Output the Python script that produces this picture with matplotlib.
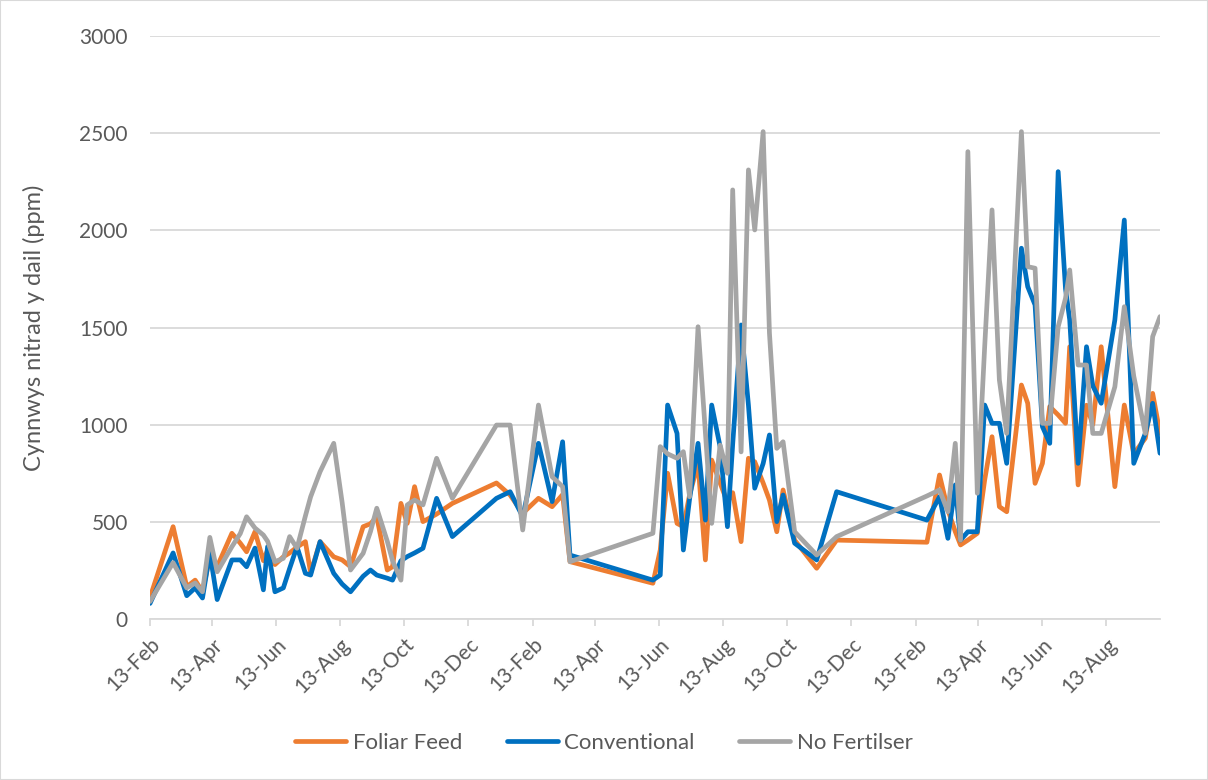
import pandas as pd
import matplotlib.pyplot as plt
import matplotlib.dates as mdates
from matplotlib.patches import Rectangle

dates = ['2017-02-13', '2017-03-07', '2017-03-20', '2017-03-28', '2017-04-04', '2017-04-11', '2017-04-18',
         '2017-05-02', '2017-05-10', '2017-05-16', '2017-05-24', '2017-06-01', '2017-06-05', '2017-06-12',
         '2017-06-20', '2017-06-26', '2017-07-03', '2017-07-11', '2017-07-16', '2017-07-25', '2017-08-07',
         '2017-08-15', '2017-08-23', '2017-09-04', '2017-09-11', '2017-09-17', '2017-09-27', '2017-10-02',
         '2017-10-10', '2017-10-16', '2017-10-23', '2017-10-31', '2017-11-13', '2017-11-28', '2018-01-09',
         '2018-01-22', '2018-02-03', '2018-02-18', '2018-03-03', '2018-03-13', '2018-03-20', '2018-06-07',
         '2018-06-14', '2018-06-21', '2018-06-30', '2018-07-06', '2018-07-12', '2018-07-20', '2018-07-27',
         '2018-08-02', '2018-08-10', '2018-08-17', '2018-08-22', '2018-08-30', '2018-09-06', '2018-09-12',
         '2018-09-20', '2018-09-26', '2018-10-03', '2018-10-09', '2018-10-20', '2018-11-10', '2018-11-29',
         '2019-02-23', '2019-03-07', '2019-03-15', '2019-03-22', '2019-03-27', '2019-04-03', '2019-04-12',
         '2019-04-19', '2019-04-26', '2019-05-03', '2019-05-10', '2019-05-24', '2019-05-30', '2019-06-06',
         '2019-06-13', '2019-06-20', '2019-06-28', '2019-07-05', '2019-07-09', '2019-07-17', '2019-07-25',
         '2019-07-31', '2019-08-08', '2019-08-21', '2019-08-30', '2019-09-08', '2019-09-19', '2019-09-26',
         '2019-10-03']

foliar = [110, 475, 166, 200, 140, 320, 270, 441, 390, 346, 449, 300, 355, 280, 320, 340, 370, 398, 237, 398,
          320, 304, 269, 475, 490, 526, 252, 269, 595, 492, 681, 501, 540, 595, 700, 638, 544, 621, 578, 640,
          295, 184, 355, 750, 492, 475, 640, 801, 304, 818, 700, 600, 650, 398, 827, 809, 700, 612, 449, 664,
          406, 261, 406, 395, 741, 561, 450, 381, 406, 441, 715, 938, 578, 552, 1204, 1110, 698, 801, 1093, 1050,
          1007, 1401, 690, 1100, 1000, 1401, 681, 1101, 850, 930, 1161, 955]

conventional = [80, 340, 120, 160, 108, 340, 100, 304, 304, 269, 365, 150, 372, 140, 160, 260, 372, 235, 226, 398,
                235, 180, 140, 220, 252, 226, 210, 200, 300, 321, 340, 364, 621, 424, 621, 655, 526, 904, 604, 912,
                329, 200, 226, 1101, 955, 355, 620, 904, 509, 1101, 887, 475, 900, 1513, 1100, 673, 800, 947, 501, 638,
                390, 304, 655, 509, 629, 415, 690, 406, 449, 449, 1101, 1007, 1007, 801, 1908, 1710, 1616, 990, 904, 2302,
                1700, 1540, 801, 1401, 1200, 1110, 1539, 2053, 801, 955, 1110, 853]

no_fert = [90, 290, 160, 185, 140, 420, 243, 372, 440, 526, 468, 432, 400, 295, 312, 424, 364, 530, 629, 758,
           904, 600, 252, 338, 450, 570, 400, 300, 200, 587, 612, 587, 827, 621, 998, 998, 458, 1101, 732, 681,
           295, 441, 887, 850, 827, 861, 629, 1504, 960, 492, 895, 750, 2208, 860, 2311, 2002, 2508, 1472, 878, 912,
           449, 329, 424, 633, 664, 552, 904, 406, 2405, 647, 1400, 2105, 1230, 955, 2508, 1813, 1805, 1007, 1007, 1504,
           1650, 1796, 1307, 1307, 955, 955, 1195, 1607, 1250, 955, 1453, 1556]

series = ['Foliar Feed', 'Conventional', 'No Fertilser']
colors = ['#ED7D31', '#0070C0', '#A5A5A5']

df = pd.DataFrame({'date': pd.to_datetime(dates), series[0]: foliar, series[1]: conventional, series[2]: no_fert})

plt.rcParams['font.family'] = ['Lato', 'DejaVu Sans']
txt = '#595959'
grid = '#D9D9D9'

fig = plt.figure(figsize=(12.08, 7.8), dpi=100)
ax = fig.add_axes([150 / 1208, 1 - 619 / 780, 1010 / 1208, 583 / 780])

for name, c in zip(series, colors):
    ax.plot(df['date'], df[name], color=c, lw=3.4, solid_joinstyle='round', solid_capstyle='round', label=name)

ax.set_ylim(0, 3000)
ax.set_yticks(range(0, 3001, 500))
ax.set_xlim(df['date'].iloc[0], df['date'].iloc[-1])
ticks = pd.date_range(df['date'].iloc[0], df['date'].iloc[-1], freq=pd.DateOffset(months=2))
ax.set_xticks(ticks)
ax.xaxis.set_major_formatter(mdates.DateFormatter('%d-%b'))
plt.setp(ax.get_xticklabels(), rotation=45, ha='right', rotation_mode='anchor')

ax.grid(axis='y', color=grid, lw=1.3)
ax.set_axisbelow(True)
for s in ['top', 'right', 'left']:
    ax.spines[s].set_visible(False)
ax.spines['bottom'].set_color(grid)
ax.spines['bottom'].set_linewidth(1.3)
ax.tick_params(axis='y', length=0, pad=16, labelsize=15, labelcolor=txt)
ax.tick_params(axis='x', length=5, width=1.3, color=grid, pad=6, labelsize=15, labelcolor=txt)

ax.set_ylabel('Cynnwys nitrad y dail (ppm)', fontsize=17, color=txt)
ax.yaxis.set_label_coords(-0.104, 0.5)

fig.legend(loc='center', bbox_to_anchor=(0.5, 1 - 743 / 780), ncol=3, frameon=False,
           fontsize=16, labelcolor=txt, handlelength=2.3, columnspacing=2.0, handletextpad=0.3)

fig.patches.append(Rectangle((0, 0), 1, 1, transform=fig.transFigure, fill=False, edgecolor=grid, lw=1.5))

plt.savefig('out.png', dpi=100)
